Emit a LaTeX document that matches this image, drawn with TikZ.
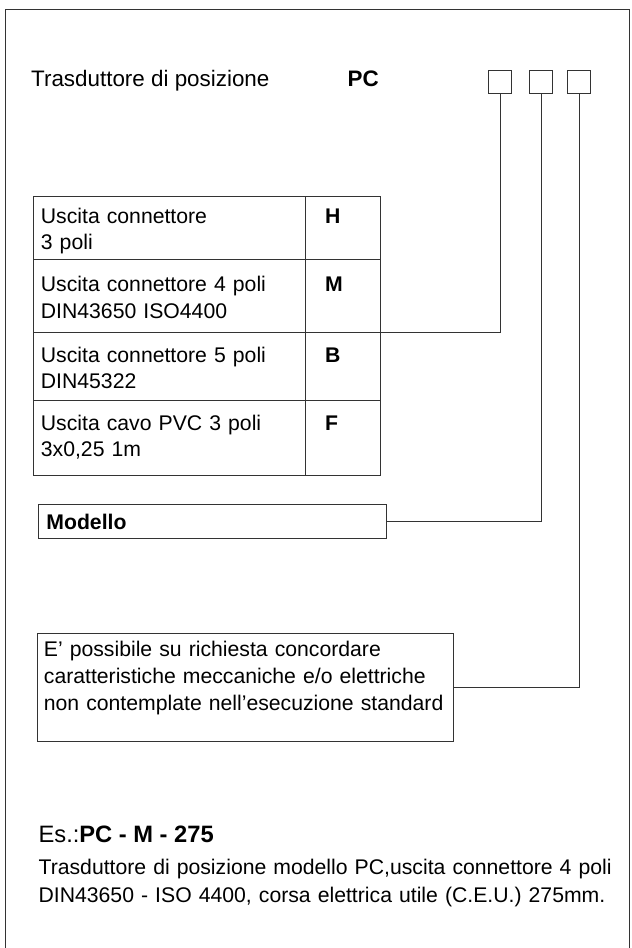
\documentclass[tikz,border=0pt]{standalone}
\usepackage{fontspec}
\setmainfont{Liberation Sans}
\begin{document}
\begin{tikzpicture}[x=1pt, y=-1pt,
  wire/.style={black!80, line width=0.8pt},
  body/.style={font=\fontsize{21.2}{26.6}\selectfont, inner sep=0pt, text=black},
  cell/.style={body, anchor=base west, text width=260pt, align=left},
  code/.style={body, anchor=base west, font=\fontsize{21.2}{26.6}\selectfont\bfseries},
  slot/.style={wire, draw, minimum width=23pt, minimum height=23pt, inner sep=0pt, anchor=north west},
  box/.style={wire, draw, anchor=north west, inner sep=0pt}]

\useasboundingbox (0,0) rectangle (632,948);

% ----- Frame -----
\draw[wire] (5,948) -- (5,9) -- (629,9) -- (629,948);

% ----- Heading -----
\node[body, anchor=base west, font=\fontsize{22.4}{26}\selectfont] (titolo) at (31,86.7) {Trasduttore di posizione};
\node[body, anchor=base west, font=\fontsize{22.4}{26}\selectfont\bfseries] (pc) at (347.5,86.7) {PC};
\node[slot] (s1) at (488.3,70) {};
\node[slot] (s2) at (529,70) {};
\node[slot] (s3) at (567.3,70) {};

% ----- Table of outputs -----
\draw[wire] (33.3,196.7) rectangle (380.7,475.7);
\foreach \y in {259.3, 332.3, 400.7}{
  \draw[wire] (33.3,\y) -- (380.7,\y);
}
\draw[wire] (305.7,196.7) -- (305.7,475.7);

\node[cell] (uscitaH) at (40.7,223.3) {Uscita connettore\\3 poli};
\node[code] (codH) at (325,223.3) {H};
\node[cell] (uscitaM) at (40.7,291.7) {Uscita connettore 4 poli\\DIN43650 ISO4400};
\node[code] (codM) at (325,291.7) {M};
\node[cell] (uscitaB) at (40.7,362.3) {Uscita connettore 5 poli\\DIN45322};
\node[code] (codB) at (325,362.3) {B};
\node[cell] (uscitaF) at (40.7,430) {Uscita cavo PVC 3 poli\\3x0,25 1m};
\node[code] (codF) at (325,430) {F};

\coordinate (rigaM) at (380.7,332.3);
\draw[wire] (rigaM) -| (s1.south);

% ----- Model -----
\node[box, minimum width=347.4pt, minimum height=34pt, inner xsep=7.7pt,
  text width=332pt, align=left, font=\fontsize{21.2}{26}\selectfont\bfseries,
  text=black] (modello) at (38.3,504.3) {Modello};
\draw[wire] (modello.east) -| (s2.south);

% ----- Special requests -----
\node[box, minimum width=416pt, minimum height=108pt] (nota) at (36.5,633) {};
\node[cell, text width=400pt] (notatesto) at (43.7,656.8)
  {E' possibile su richiesta concordare\\caratteristiche meccaniche e/o elettriche\\non contemplate nell'esecuzione standard};
\draw[wire] (nota.east) -| (s3.south);

% ----- Example -----
\node[body, anchor=base west, font=\fontsize{23.7}{28}\selectfont] (esempio) at (38.4,842.7) {Es.:\textbf{PC - M - 275}};
\node[cell, text width=580pt, font=\fontsize{21.2}{28}\selectfont] (descrizione) at (38.4,874)
  {Trasduttore di posizione modello PC,uscita connettore 4 poli\\DIN43650 - ISO 4400, corsa elettrica utile (C.E.U.) 275mm.};
\end{tikzpicture}
\end{document}
